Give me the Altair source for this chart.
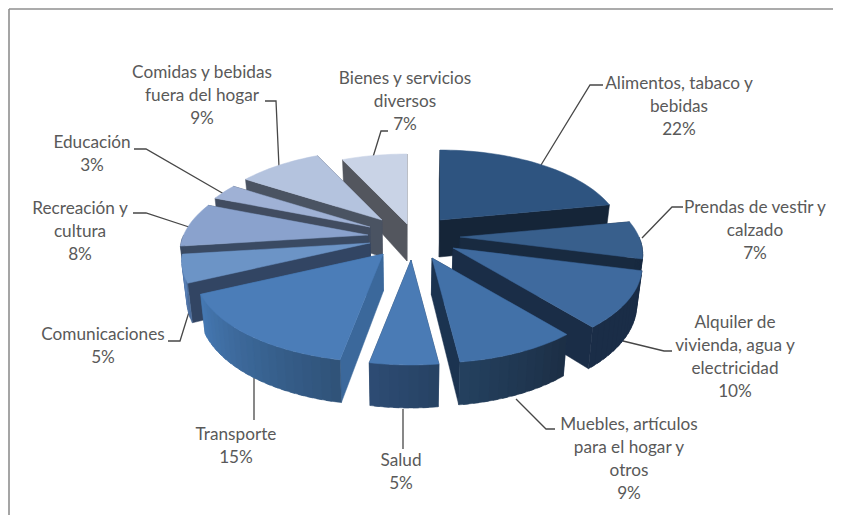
import math
import altair as alt

# ---- chart values
CATEGORIES = ["Alimentos, tabaco y bebidas", "Prendas de vestir y calzado",
              "Alquiler de vivienda, agua y electricidad", "Muebles, artículos para el hogar y otros",
              "Salud", "Transporte", "Comunicaciones", "Recreación y cultura", "Educación",
              "Comidas y bebidas fuera del hogar", "Bienes y servicios diversos"]
SHARES = [22, 7, 10, 9, 5, 15, 5, 8, 3, 9, 7]
LABEL_LINES = [["Alimentos, tabaco y", "bebidas", "22%"], ["Prendas de vestir y", "calzado", "7%"],
               ["Alquiler de", "vivienda, agua y", "electricidad", "10%"],
               ["Muebles, artículos", "para el hogar y", "otros", "9%"], ["Salud", "5%"], ["Transporte", "15%"],
               ["Comunicaciones", "5%"], ["Recreación y", "cultura", "8%"], ["Educación", "3%"],
               ["Comidas y bebidas", "fuera del hogar", "9%"], ["Bienes y servicios", "diversos", "7%"]]

# ---- styling per slice
TOP = ["#2E5480", "#385F8C", "#3F6A9E", "#4271A8", "#4A7BB5", "#4B7DB8",
       "#6C94C6", "#8AA2CD", "#9FB1D5", "#B4C3DE", "#C9D3E6"]
WALL_A = ["#152538", "#182A40", "#1A2D47", "#1C2E45", "#274263", "#2F5278",
          "#4A6A98", "#3A4A63", "#414C60", "#4A5362", "#53565E"]   # colour at low angle end of rim
WALL_B = ["#152538", "#182A40", "#1A2D47", "#24415F", "#2D4C74", "#4679B3",
          "#5A82B8", "#3A4A63", "#414C60", "#4A5362", "#53565E"]   # colour at high angle end of rim
START_FACE = ["#152538", "#182A40", "#1A2D47", "#1B3350", "#274263", "#3B689B",
              "#324563", "#3A4A63", "#414C60", "#4A5362", "#53565E"]
END_FACE = ["#152538", "#182A40", "#1A2D47", "#1B3350", "#274263", "#3B689B",
            "#324563", "#3A4A63", "#414C60", "#4A5362", "#53565E"]

# ---- layout: pie geometry (picture pixels)
CX, CY, RX, RY, PERSP, DEPTH = 403, 236, 179, 84, 0.2, 37
EXPLODE_DX = [37, 57, 50, 29, 8, -20, -33, -35, -33, -21, 4]
EXPLODE_DY = [-16, 1, 12, 22, 24, 18, 7, -1, -9, -16, -12]
RADIUS = [1, 1, 1.035, 1, 1, 1.03, 1.03, 1.03, 1, 1, 1]
PAINT_ORDER = [10, 9, 8, 7, 6, 0, 1, 2, 3, 5, 4]
LABEL_X = [679, 755, 735, 629, 401, 236, 103, 80, 92, 202, 405]
LABEL_Y = [84, 208, 323, 425, 461, 435, 335, 209, 143, 73, 79]
LINE_STEP = 23
LEADER_X = [[541, 590, 603], [642, 672, 683], [623, 664, 672], [516, 546, 555], [403, 403], [254, 254],
            [189, 180, 168], [192, 146, 133], [224, 146, 134], [279, 276, 265], [373, 381, 388]]
LEADER_Y = [[165, 85, 85], [238, 207, 207], [341, 351, 351], [399, 429, 429], [409, 449], [378, 420],
            [312, 341, 341], [228, 213, 213], [194, 149, 149], [167, 101, 101], [157, 131, 131]]


def rim(i, deg):
    t = math.radians(deg)
    u, v = math.sin(t), -math.cos(t)
    w = RADIUS[i] / (1 - PERSP * v)
    return (CX + EXPLODE_DX[i] + RX * u * w, CY + EXPLODE_DY[i] + RY * v * w, v)


def apex(i):
    return (CX + EXPLODE_DX[i], CY + EXPLODE_DY[i], 0.0)


def drop(p):
    x, y, v = p
    return (x + (CX - x) * 0.022, y + DEPTH * (1 + 0.16 * v))


def lerp(a, b, f):
    ca = [int(a[k:k + 2], 16) for k in (1, 3, 5)]
    cb = [int(b[k:k + 2], 16) for k in (1, 3, 5)]
    return "#" + "".join(f"{round(x + (y - x) * f):02x}" for x, y in zip(ca, cb))


def feature(points, color):
    ring = [[round(p[0], 2), round(p[1], 2)] for p in points]
    ring.append(ring[0])
    return {"type": "Feature", "geometry": {"type": "Polygon", "coordinates": [ring]},
            "properties": {"fill": color}}


bounds = [0]
for s in SHARES:
    bounds.append(bounds[-1] + s * 3.6)

faces = []
for i in PAINT_ORDER:
    a0, a1 = bounds[i], bounds[i + 1]
    mid = (a0 + a1) / 2
    c = apex(i)
    p0, p1 = rim(i, a0), rim(i, a1)
    start = feature([c[:2], p0[:2], drop(p0), drop(c)], START_FACE[i])
    end = feature([c[:2], p1[:2], drop(p1), drop(c)], END_FACE[i])
    faces += [start, end] if mid < 180 else [end, start]
    # outer wall, front half only, in thin overlapping strips so the colour can run along it
    lo, hi = max(a0, 90), min(a1, 270)
    if hi > lo:
        n = max(2, int((hi - lo) / 2.5))
        for k in range(n):
            d0 = lo + (hi - lo) * k / n
            d1 = min(hi, lo + (hi - lo) * (k + 1) / n + 1.5)
            mids = [d0 + (d1 - d0) * m / 3 for m in range(4)]
            qs = [rim(i, d) for d in mids]
            faces.append(feature([q[:2] for q in qs] + [drop(q) for q in reversed(qs)],
                                 lerp(WALL_A[i], WALL_B[i], (k + 0.5) / n)))
    # top
    steps = max(4, int((a1 - a0) / 2))
    arc = [rim(i, a0 + (a1 - a0) * k / steps)[:2] for k in range(steps + 1)]
    faces.append(feature([c[:2]] + arc, TOP[i]))

W, H = 825, 507
xs = alt.Scale(domain=[8, 8 + W], range=[0, W])
ys = alt.Scale(domain=[8, 8 + H], range=[0, H])

pie = alt.Chart(alt.Data(values=faces)).mark_geoshape(strokeWidth=0.5).encode(
    fill=alt.Fill("properties.fill:N", scale=None),
    stroke=alt.Stroke("properties.fill:N", scale=None),
).project(type="identity", scale=1, translate=[-8, -8])

leader_rows = [{"id": i, "k": k, "x": x, "y": y}
               for i in range(len(LEADER_X))
               for k, (x, y) in enumerate(zip(LEADER_X[i], LEADER_Y[i]))]
leaders = alt.Chart(alt.Data(values=leader_rows)).mark_line(color="#474747", strokeWidth=1.3).encode(
    x=alt.X("x:Q", scale=xs, axis=None),
    y=alt.Y("y:Q", scale=ys, axis=None),
    detail="id:N",
    order="k:Q",
)

text_rows = [{"t": line, "x": LABEL_X[i], "y": LABEL_Y[i] + j * LINE_STEP}
             for i, lines in enumerate(LABEL_LINES) for j, line in enumerate(lines)]
labels = alt.Chart(alt.Data(values=text_rows)).mark_text(
    font="Lato", fontSize=17.2, color="#595959", align="center", baseline="middle"
).encode(
    x=alt.X("x:Q", scale=xs, axis=None),
    y=alt.Y("y:Q", scale=ys, axis=None),
    text="t:N",
)

frame_rows = [{"id": "top", "k": 0, "x": 9, "y": 9}, {"id": "top", "k": 1, "x": 8 + W, "y": 9},
              {"id": "left", "k": 0, "x": 9, "y": 9}, {"id": "left", "k": 1, "x": 9, "y": 8 + H}]
frame = alt.Chart(alt.Data(values=frame_rows)).mark_line(color="#8f8f8f", strokeWidth=1.6).encode(
    x=alt.X("x:Q", scale=xs, axis=None),
    y=alt.Y("y:Q", scale=ys, axis=None),
    detail="id:N",
    order="k:Q",
)

chart = alt.layer(frame, leaders, pie, labels).properties(
    width=W, height=H, padding=0, autosize="none", background="white"
).configure_view(stroke=None)

chart.save("out.html", embed_options={"renderer": "svg", "actions": False})
